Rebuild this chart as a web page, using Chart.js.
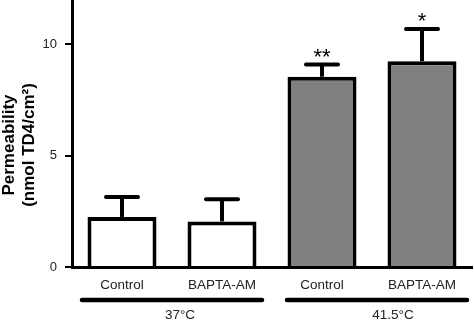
<!DOCTYPE html>
<html>
<head>
<meta charset="utf-8">
<script src="https://cdn.jsdelivr.net/npm/chart.js@4.4.1/dist/chart.umd.min.js"></script>
<style>
  body { margin: 0; background: #fff; }
  canvas { display: block; }
</style>
</head>
<body>
<canvas id="grafico" width="474" height="320"></canvas>
<script>
// dados
const categorias = ['Control', 'BAPTA-AM', 'Control', 'BAPTA-AM'];
const permeabilidade = [2.25, 2.05, 8.55, 9.25];
const erro = [0.9, 1.0, 0.55, 1.45];
const significancia = ['', '', '**', '*'];
const cores = ['#ffffff', '#ffffff', '#808080', '#808080'];
const grupos = ['37°C', '41.5°C'];
const gruposIndices = [[0, 1], [2, 3]];
const yTicks = [0, 5, 10];

const fonte = 'Liberation Sans, Arial, Helvetica, sans-serif';

const extras = {
  id: 'extras',
  afterDatasetsDraw(chart) {
    const ctx = chart.ctx;
    const x = chart.scales.x;
    const y = chart.scales.y;
    ctx.save();
    ctx.strokeStyle = '#000';
    ctx.fillStyle = '#000';

    // barras de erro
    permeabilidade.forEach((v, i) => {
      const cx = x.getPixelForValue(i);
      const top = y.getPixelForValue(v);
      const cap = y.getPixelForValue(v + erro[i]);
      ctx.lineWidth = 4;
      ctx.lineCap = 'butt';
      ctx.beginPath();
      ctx.moveTo(cx, top);
      ctx.lineTo(cx, cap);
      ctx.stroke();
      ctx.lineCap = 'round';
      ctx.beginPath();
      ctx.moveTo(cx - 16, cap);
      ctx.lineTo(cx + 16, cap);
      ctx.stroke();

      if (significancia[i]) {
        ctx.font = '22px ' + fonte;
        ctx.textAlign = 'center';
        ctx.textBaseline = 'alphabetic';
        ctx.fillText(significancia[i], cx, cap - 1);
      }
    });

    // linhas de grupo
    ctx.lineCap = 'round';
    ctx.lineWidth = 4.5;
    gruposIndices.forEach((par, g) => {
      const x0 = x.getPixelForValue(par[0]) - (g === 0 ? 40 : 35);
      const x1 = x.getPixelForValue(par[1]) + (g === 0 ? 40 : 45);
      ctx.beginPath();
      ctx.moveTo(x0, 300);
      ctx.lineTo(x1, 300);
      ctx.stroke();
      ctx.font = '13.5px ' + fonte;
      ctx.fillStyle = '#222';
      ctx.textAlign = 'center';
      ctx.textBaseline = 'alphabetic';
      ctx.fillText(grupos[g], (x0 + x1) / 2 + (g === 0 ? 8 : 16), 318.5);
      ctx.fillStyle = '#000';
    });

    // titulo do eixo y
    ctx.font = 'bold 17px ' + fonte;
    ctx.textAlign = 'center';
    ctx.textBaseline = 'alphabetic';
    ctx.translate(0, 145);
    ctx.rotate(-Math.PI / 2);
    ctx.fillText('Permeability', 0, 13.5);
    ctx.fillText('(nmol TD4/cm²)', 0, 34);
    ctx.restore();
  }
};

new Chart(document.getElementById('grafico').getContext('2d'), {
  type: 'bar',
  data: {
    labels: categorias,
    datasets: [{
      data: permeabilidade,
      backgroundColor: cores,
      borderColor: '#000',
      borderWidth: 4,
      barPercentage: 0.69,
      categoryPercentage: 1
    }]
  },
  options: {
    responsive: false,
    animation: false,
    layout: { padding: { left: 0, right: 2, top: 0, bottom: 0 } },
    plugins: {
      legend: { display: false },
      tooltip: { enabled: false }
    },
    scales: {
      x: {
        grid: { display: false, drawTicks: false },
        border: { display: true, color: '#000', width: 3 },
        ticks: {
          color: '#222',
          padding: 10,
          font: { family: fonte, size: 13.5 }
        },
        afterFit: s => { s.height = 53; s.paddingLeft = 0; s.paddingRight = 0; }
      },
      y: {
        min: 0,
        max: 12,
        grid: { display: true, drawOnChartArea: false, drawTicks: true, tickLength: 7, color: '#000', lineWidth: 2 },
        border: { display: true, color: '#000', width: 3 },
        ticks: {
          color: '#222',
          padding: 8,
          font: { family: fonte, size: 13 }
        },
        afterBuildTicks: s => { s.ticks = yTicks.map(v => ({ value: v })); },
        afterFit: s => { s.width = 72; s.paddingTop = 0; s.paddingBottom = 0; }
      }
    }
  },
  plugins: [extras]
});
</script>
</body>
</html>
